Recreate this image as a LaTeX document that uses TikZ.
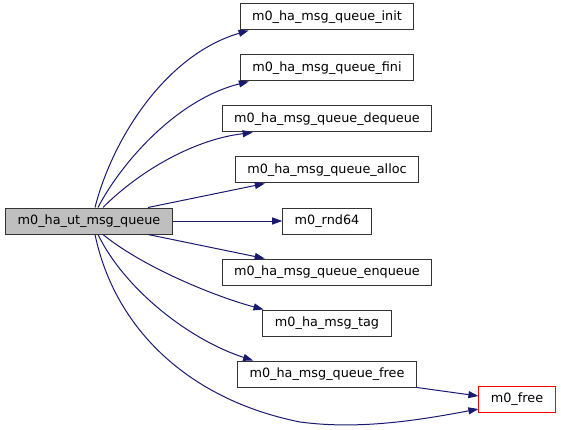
\documentclass[tikz,border=0pt]{standalone}
\usepackage{fontspec}
\setmainfont{DejaVu Sans}
\usetikzlibrary{arrows.meta}
\definecolor{midnightblue}{RGB}{25,25,112}
\definecolor{grey75}{RGB}{191,191,191}

\begin{document}
\begin{tikzpicture}[x=1pt,y=-1pt,
  fn/.style={draw=black!80,fill=white,line width=1pt,minimum height=26pt,
    inner xsep=12pt,inner ysep=0pt,font=\fontsize{12.8}{15}\selectfont},
  call/.style={draw=midnightblue,line width=1pt,-{Triangle[length=10pt,width=7pt]}}]
\def\cx{327}
\def\dy{51}
\useasboundingbox (0,0) rectangle (561,430);

%caller
\node[fn,fill=grey75] (ut) at (89,221) {m0\_ha\_ut\_msg\_queue};

%callees (one column)
\node[fn] (init) at (\cx,221-4*\dy) {m0\_ha\_msg\_queue\_init};
\node[fn] (fini) at (\cx,221-3*\dy) {m0\_ha\_msg\_queue\_fini};
\node[fn] (deq) at (\cx,221-2*\dy) {m0\_ha\_msg\_queue\_dequeue};
\node[fn] (alloc) at (\cx,221-\dy) {m0\_ha\_msg\_queue\_alloc};
\node[fn] (rnd) at (\cx,221) {m0\_rnd64};
\node[fn] (enq) at (\cx,221+\dy) {m0\_ha\_msg\_queue\_enqueue};
\node[fn] (tag) at (\cx,221+2*\dy) {m0\_ha\_msg\_tag};
\node[fn] (qfree) at (\cx,221+3*\dy) {m0\_ha\_msg\_queue\_free};
\node[fn,draw=red] (free) at (517,399.5) {m0\_free};

%calls upwards
\draw[call] ([xshift=6pt]ut.north) .. controls (112,140) and (165,55) .. ([xshift=9pt]init.south west);
\draw[call] ([xshift=9pt]ut.north) .. controls (120,165) and (175,100) .. ([xshift=9pt]fini.south west);
\draw[call] ([xshift=14pt]ut.north) .. controls (135,175) and (190,140) .. ([xshift=31pt]deq.south west);
\draw[call] ([xshift=59pt]ut.north) -- ([xshift=30pt]alloc.south west);
\draw[call] (ut.east) -- (rnd.west);

%calls downwards
\draw[call] ([xshift=59pt]ut.south) -- ([xshift=43pt]enq.north west);
\draw[call] ([xshift=14pt]ut.south) .. controls (140,265) and (210,295) .. ([xshift=1pt]tag.north west);
\draw[call] ([xshift=9pt]ut.south) .. controls (125,290) and (190,340) .. ([xshift=16pt]qfree.north west);
\draw[call] ([xshift=6pt]ut.south) .. controls (115,330) and (190,400) .. (300,422)
  .. controls (360,430) and (420,420) .. ([yshift=4pt]free.south west);
\draw[call] (qfree.south east) -- ([yshift=3.5pt]free.west);

\end{tikzpicture}
\end{document}
